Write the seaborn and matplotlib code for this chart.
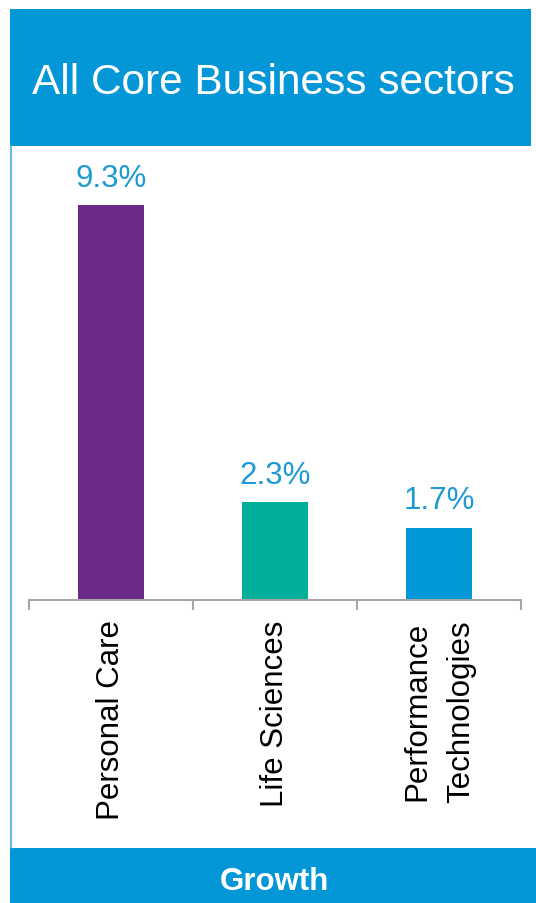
import matplotlib
matplotlib.use("Agg")
import matplotlib.pyplot as plt
from matplotlib.patches import Rectangle
from matplotlib.lines import Line2D
import seaborn as sns
import pandas as pd

# Growth by core business sector
sectors = ["Personal Care", "Life Sciences", "Performance\nTechnologies"]
growth = [9.3, 2.3, 1.7]
bar_colors = ["#6C2A88", "#00AE9B", "#0398D8"]
title = "All Core Business sectors"
footer = "Growth"

BAND_BLUE = "#0397D8"
EDGE_BLUE = "#45ABE0"
VALUE_BLUE = "#1B9AD6"
AXIS_GREY = "#A6A6A6"

plt.rcParams["font.family"] = ["Liberation Sans", "DejaVu Sans"]

W, H = 536, 904
fig = plt.figure(figsize=(W / 100, H / 100), dpi=100)


def fx(px):
    return px / W


def fy(py):
    return 1 - py / H


def band(x0, y0, x1, y1, color):
    fig.add_artist(Rectangle((fx(x0), fy(y1)), fx(x1) - fx(x0), fy(y0) - fy(y1),
                             transform=fig.transFigure, facecolor=color,
                             edgecolor="none", lw=0))


# header and footer bands, plus the thin left frame line
band(10, 10, 531, 147, BAND_BLUE)
band(10, 849, 536, 904, BAND_BLUE)
fig.add_artist(Line2D([fx(10.5), fx(10.5)], [fy(147), fy(849)],
                      transform=fig.transFigure, color=EDGE_BLUE, lw=1.2))

fig.text(fx(273), fy(94.3), title, ha="center", va="baseline",
         color="white", fontsize=30.5)
fig.text(fx(274), fy(890), footer, ha="center", va="baseline",
         color="white", fontsize=22.5, fontweight="bold")

# bar chart
ax = fig.add_axes([fx(29), fy(601), fx(521) - fx(29), (601 - 176.3) / H])
ax.patch.set_visible(False)
df = pd.DataFrame({"sector": sectors, "growth": growth})
sns.barplot(data=df, x="sector", y="growth", hue="sector", palette=bar_colors,
            width=0.4, saturation=1, legend=False, ax=ax)

for container in ax.containers:
    ax.bar_label(container, fmt="%.1f%%", padding=9, color=VALUE_BLUE,
                 fontsize=22.5)

ax.set_xlim(-0.5, len(sectors) - 0.5)
ax.set_ylim(0, 10)
ax.set_xlabel("")
ax.set_ylabel("")
ax.set_yticks([])

# boundary ticks between categories, labels centred under the bars
ax.set_xticks([i - 0.5 for i in range(len(sectors) + 1)])
ax.set_xticklabels([])
ax.set_xticks(range(len(sectors)), minor=True)
ax.set_xticklabels(sectors, minor=True, rotation=90, fontsize=22.5,
                   linespacing=1.6, color="black")
ax.tick_params(axis="x", which="major", bottom=True, length=7.2, width=1.5,
               color=AXIS_GREY, direction="out")
ax.tick_params(axis="x", which="minor", bottom=True, length=0, pad=14)

for side in ("top", "left", "right"):
    ax.spines[side].set_visible(False)
ax.spines["bottom"].set_color(AXIS_GREY)
ax.spines["bottom"].set_linewidth(1.5)

fig.savefig("out.png", dpi=100)
